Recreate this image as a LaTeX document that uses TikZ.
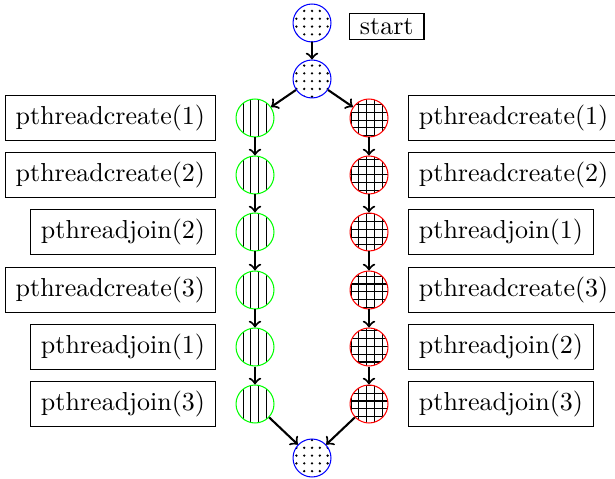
\documentclass[tikz,border=0pt]{standalone}
\usetikzlibrary{patterns}
\begin{document}
\begin{tikzpicture}[x=0.3846pt,y=-0.3846pt,
  stnode/.style={circle,draw=blue,pattern=dots,minimum size=14.6pt,inner sep=0pt},
  ltnode/.style={circle,draw=green,pattern=vertical lines,minimum size=14.6pt,inner sep=0pt},
  rtnode/.style={circle,draw=red,pattern=grid,minimum size=14.6pt,inner sep=0pt},
  lab/.style={draw,rectangle,inner xsep=4pt,inner ysep=3.5pt},
  arr/.style={->,thick}]
\useasboundingbox (0,0) rectangle (615,479);
% top and bottom
\node[stnode] (s0) at (312,23) {};
\node[stnode] (s1) at (312,79) {};
\node[stnode] (e) at (312,458) {};
\node[lab,anchor=west,inner ysep=2pt] (ls) at (349,26.5) {start};
% left column
\node[ltnode] (l1) at (255,118) {};
\node[ltnode] (l2) at (255,175) {};
\node[ltnode] (l3) at (255,232) {};
\node[ltnode] (l4) at (255,290) {};
\node[ltnode] (l5) at (255,347) {};
\node[ltnode] (l6) at (255,404) {};
% right column
\node[rtnode] (r1) at (369,118) {};
\node[rtnode] (r2) at (369,175) {};
\node[rtnode] (r3) at (369,232) {};
\node[rtnode] (r4) at (369,290) {};
\node[rtnode] (r5) at (369,347) {};
\node[rtnode] (r6) at (369,404) {};
% left labels
\node[lab,anchor=east] (ll1) at (216,118) {pthreadcreate(1)};
\node[lab,anchor=east] (ll2) at (216,175) {pthreadcreate(2)};
\node[lab,anchor=east] (ll3) at (216,232) {pthreadjoin(2)};
\node[lab,anchor=east] (ll4) at (216,290) {pthreadcreate(3)};
\node[lab,anchor=east] (ll5) at (216,347) {pthreadjoin(1)};
\node[lab,anchor=east] (ll6) at (216,404) {pthreadjoin(3)};
% right labels
\node[lab,anchor=west] (rl1) at (408,118) {pthreadcreate(1)};
\node[lab,anchor=west] (rl2) at (408,175) {pthreadcreate(2)};
\node[lab,anchor=west] (rl3) at (408,232) {pthreadjoin(1)};
\node[lab,anchor=west] (rl4) at (408,290) {pthreadcreate(3)};
\node[lab,anchor=west] (rl5) at (408,347) {pthreadjoin(2)};
\node[lab,anchor=west] (rl6) at (408,404) {pthreadjoin(3)};
% connectors
\draw[arr] (s0) -- (s1);
\draw[arr] (s1) -- (l1);
\draw[arr] (s1) -- (r1);
\draw[arr] (l1) -- (l2);
\draw[arr] (l2) -- (l3);
\draw[arr] (l3) -- (l4);
\draw[arr] (l4) -- (l5);
\draw[arr] (l5) -- (l6);
\draw[arr] (r1) -- (r2);
\draw[arr] (r2) -- (r3);
\draw[arr] (r3) -- (r4);
\draw[arr] (r4) -- (r5);
\draw[arr] (r5) -- (r6);
\draw[arr] (l6) -- (e);
\draw[arr] (r6) -- (e);
\end{tikzpicture}
\end{document}
